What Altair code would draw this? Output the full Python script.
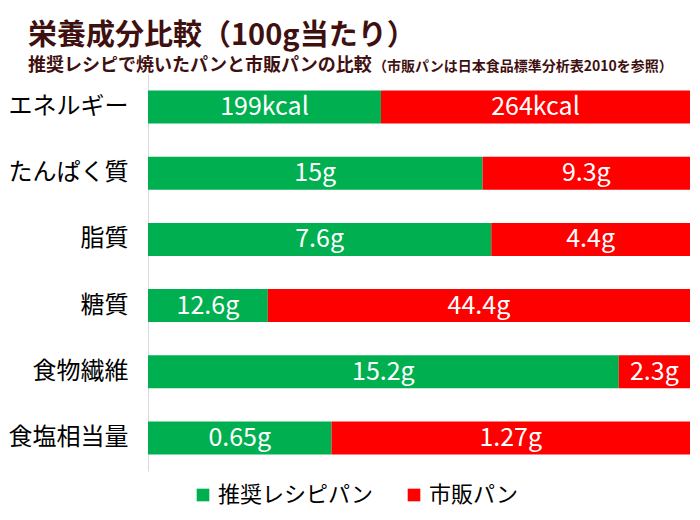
import altair as alt
import pandas as pd

categories = ["エネルギー", "たんぱく質", "脂質", "糖質", "食物繊維", "食塩相当量"]
series = ["推奨レシピパン", "市販パン"]
recommended = [199, 15, 7.6, 12.6, 15.2, 0.65]
commercial = [264, 9.3, 4.4, 44.4, 2.3, 1.27]
rec_labels = ["199kcal", "15g", "7.6g", "12.6g", "15.2g", "0.65g"]
com_labels = ["264kcal", "9.3g", "4.4g", "44.4g", "2.3g", "1.27g"]
colors = ["#00B050", "#FF0000"]

rows = []
for i, c in enumerate(categories):
    rows.append({"category": c, "series": series[0], "ord": 0, "value": recommended[i], "label": rec_labels[i]})
    rows.append({"category": c, "series": series[1], "ord": 1, "value": commercial[i], "label": com_labels[i]})
df = pd.DataFrame(rows)

FONT = "Noto Sans CJK JP"
TITLE_COLOR = "#3F1010"

base = alt.Chart(df)

bars = base.mark_bar(size=33).encode(
    x=alt.X("value:Q", stack="normalize", axis=None, scale=alt.Scale(domain=[0, 1], nice=False)),
    y=alt.Y("category:N", sort=categories, title=None,
            axis=alt.Axis(labelFontSize=24, labelFont=FONT, labelColor="#000000",
                          ticks=False, domainColor="#D9D9D9", labelPadding=20,
                          labelLimit=200)),
    color=alt.Color("series:N", scale=alt.Scale(domain=series, range=colors),
                    legend=alt.Legend(title=None, orient="none", direction="horizontal",
                                      legendX=44, legendY=410,
                                      symbolType="square", symbolSize=160, symbolStrokeWidth=0,
                                      labelFontSize=22, labelFont=FONT, labelColor="#000000",
                                      columnPadding=30)),
    order=alt.Order("ord:Q"),
)

labels = base.transform_joinaggregate(
    total="sum(value)", groupby=["category"]
).transform_calculate(
    frac="datum.value / datum.total"
).transform_window(
    cum="sum(frac)", groupby=["category"], sort=[alt.SortField("ord")]
).transform_calculate(
    mid="datum.cum - datum.frac / 2"
).mark_text(color="white", fontSize=25, font=FONT, baseline="middle").encode(
    x=alt.X("mid:Q", scale=alt.Scale(domain=[0, 1], nice=False)),
    y=alt.Y("category:N", sort=categories),
    text="label:N",
)

note = alt.Chart(pd.DataFrame({"t": ["（市販パンは日本食品標準分析表2010を参照）"]})).mark_text(
    align="left", baseline="alphabetic", fontSize=14, font=FONT, fontWeight="bold", color=TITLE_COLOR
).encode(x=alt.value(225), y=alt.value(-3), text="t:N")

chart = alt.layer(bars, labels, note).properties(
    width=542, height=397,
    autosize=alt.AutoSizeParams(type="none"),
    padding={"left": 140, "top": 66, "right": 2, "bottom": 41},
    title=alt.TitleParams(
        text="栄養成分比較（100g当たり）",
        subtitle="推奨レシピで焼いたパンと市販パンの比較",
        anchor="start", frame="group", dx=-120, offset=-15,
        font=FONT, fontSize=29, fontWeight="bold", color=TITLE_COLOR,
        subtitleFont=FONT, subtitleFontSize=18, subtitleFontWeight="bold",
        subtitleColor=TITLE_COLOR, subtitlePadding=6,
    ),
).configure_view(stroke=None)

chart.save("out.html", embed_options={"renderer": "svg", "actions": False})
